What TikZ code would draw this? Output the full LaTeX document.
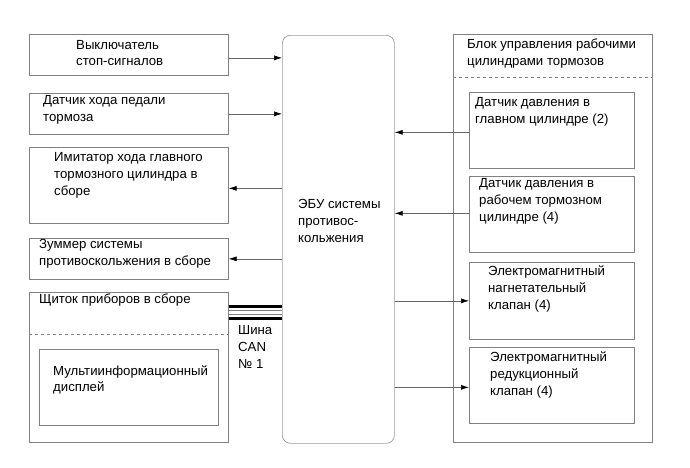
\documentclass[tikz,border=0pt]{standalone}
\usepackage{fontspec}
\setmainfont{Liberation Sans}
\usetikzlibrary{arrows.meta,calc}
\begin{document}
\begin{tikzpicture}[x=1pt,y=-1pt,
  box/.style={draw=black!50,line width=0.7pt,anchor=north west,inner sep=0pt,rectangle},
  txt/.style={anchor=west,align=left,inner sep=0pt,font=\fontsize{13.2}{16.8}\selectfont},
  conn/.style={draw=black!60,line width=0.6pt,-{Latex[length=8pt,width=5pt,black]}},
  sep/.style={draw=black!50,dashed,line width=0.6pt}]
\useasboundingbox (0,0) rectangle (690,467);
% left boxes
\node[box,minimum width=199pt,minimum height=41pt] (b1) at (29,34) {};
\node[box,minimum width=199pt,minimum height=41pt] (b2) at (29,93) {};
\node[box,minimum width=199pt,minimum height=76pt] (b3) at (29,147) {};
\node[box,minimum width=199pt,minimum height=41pt] (b4) at (29,238) {};
\node[box,minimum width=199pt,minimum height=150pt] (b5) at (29,292) {};
\node[box,minimum width=179pt,minimum height=76pt] (b6) at (39,349) {};
\draw[sep] (b5.west |- 0,334) -- (b5.east |- 0,334);
% ECU
\node[box,draw=black!40,rounded corners=8pt,minimum width=112pt,minimum height=408pt] (ecu) at (282,35) {};
% right outer
\node[box,minimum width=199pt,minimum height=408pt] (rb) at (453,34) {};
\draw[sep] (rb.west |- 0,77) -- (rb.east |- 0,77);
\node[box,minimum width=165pt,minimum height=76pt] (r1) at (469,92) {};
\node[box,minimum width=165pt,minimum height=76pt] (r2) at (469,176) {};
\node[box,minimum width=165pt,minimum height=77pt] (r3) at (469,262) {};
\node[box,minimum width=165pt,minimum height=76pt] (r4) at (469,347) {};
% texts
\node[txt] (t1) at (76,53) {Выключатель\\стоп-сигналов};
\node[txt] (t2) at (43,110) {Датчик хода педали\\тормоза};
\node[txt] (t3) at (54,175.5) {Имитатор хода главного\\тормозного цилиндра в\\сборе};
\node[txt] (t4) at (39,254) {Зуммер системы\\противоскольжения в сборе};
\node[txt] (t5) at (39,300) {Щиток приборов в сборе};
\node[txt] (t6) at (53,380) {Мультиинформационный\\дисплей};
\node[txt] (t7) at (238,347) {Шина\\CAN\\№ 1};
\node[txt] (te) at (298,221) {ЭБУ системы\\противос-\\кольжения};
\node[txt] (tr) at (467,53.5) {Блок управления рабочими\\цилиндрами тормозов};
\node[txt] (tr1) at (475,111.5) {Датчик давления в\\главном цилиндре (2)};
\node[txt] (tr2) at (479,201.5) {Датчик давления в\\рабочем тормозном\\цилиндре (4)};
\node[txt] (tr3) at (488,289) {Электромагнитный\\нагнетательный\\клапан (4)};
\node[txt] (tr4) at (490,375) {Электромагнитный\\редукционный\\клапан (4)};
% connector anchor points
\coordinate (p1) at ([yshift=-3pt]b1.east);
\coordinate (p3) at ([yshift=-3pt]b3.east);
\coordinate (q1) at ([yshift=-2pt]r1.west);
\coordinate (q2) at ([yshift=1pt]r2.west);
\coordinate (q4) at ([yshift=-2pt]r4.west);
% connectors
\draw[conn] (p1) -- (ecu.west |- p1);
\draw[conn] (b2.east) -- (ecu.west |- b2.east);
\draw[conn] (ecu.west |- p3) -- (p3);
\draw[conn] (ecu.west |- b4.east) -- (b4.east);
\draw[conn] (q1) -- (ecu.east |- q1);
\draw[conn] (q2) -- (ecu.east |- q2);
\draw[conn] (ecu.east |- r3.west) -- (r3.west);
\draw[conn] (ecu.east |- q4) -- (q4);
% CAN bus
\draw[line width=2.5pt] (b5.east |- 0,306.5) -- (ecu.west |- 0,306.5);
\draw[line width=0.6pt,black!50] (b5.east |- 0,310.5) -- (ecu.west |- 0,310.5);
\draw[line width=0.6pt,black!50] (b5.east |- 0,314.5) -- (ecu.west |- 0,314.5);
\draw[line width=2.5pt] (b5.east |- 0,318.5) -- (ecu.west |- 0,318.5);
\end{tikzpicture}
\end{document}
